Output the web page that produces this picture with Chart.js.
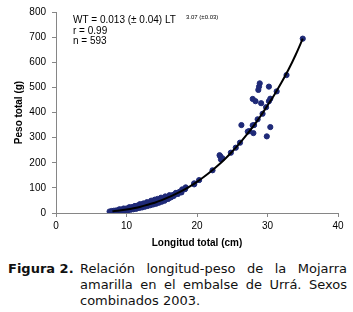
<!DOCTYPE html>
<html>
<head>
<meta charset="utf-8">
<script src="https://cdn.jsdelivr.net/npm/chart.js@4.4.1/dist/chart.umd.min.js"></script>
<style>
  html, body { margin: 0; padding: 0; background: #fff; }
  #wrap { position: relative; width: 353px; height: 252px; }
  #caption {
    display: flex;
    margin: 9px 0 0 8px;
    font-family: "DejaVu Sans", Verdana, sans-serif;
    font-size: 13px;
    line-height: 16px;
    color: #111;
  }
  #caption b { width: 72px; flex: none; }
  #caption span { width: 267px; text-align: justify; }
</style>
</head>
<body>
<div id="wrap"><canvas id="chart"></canvas></div>
<div id="caption"><b>Figura 2.</b><span>Relación longitud-peso de la Mojarra amarilla en el embalse de Urrá. Sexos combinados 2003.</span></div>
<script>
const lengths = [
    7.6, 7.9, 8.0, 8.2, 8.4, 8.5, 8.7, 8.8, 9.0, 9.1, 9.2, 9.4, 9.5, 9.6, 9.8, 9.9,
    10.0, 10.1, 10.2, 10.3, 10.4, 10.5, 10.6, 10.7, 10.8, 10.9, 11.0, 11.1, 11.2, 11.3,
    11.4, 11.5, 11.6, 11.7, 11.8, 11.9, 12.0, 12.1, 12.2, 12.3, 12.4, 12.5, 12.6, 12.7,
    12.8, 12.9, 13.0, 13.1, 13.2, 13.3, 13.4, 13.5, 13.6, 13.7, 13.8, 13.9, 14.0, 14.1,
    14.2, 14.3, 14.5, 14.6, 14.8, 14.9, 15.0, 15.2, 15.3, 15.5, 15.6, 15.8, 16.0, 16.2,
    16.4, 16.6, 16.8, 17.0, 17.2, 17.5,
    8.1, 8.6, 9.3, 9.7, 10.2, 10.6, 11.0, 11.4, 11.8, 12.2, 12.6, 13.0, 13.4, 13.8,
    14.2, 14.6, 15.0, 15.4, 15.9, 16.3, 16.7, 17.3, 17.8,
    9.0, 9.6, 10.4, 11.2, 11.9, 12.4, 12.9, 13.5, 14.0, 14.4, 14.9, 15.5, 16.1,
    17.9, 18.3, 18.4, 19.6, 19.6, 20.3, 22.2, 23.2, 23.3, 23.4, 23.6, 24.8, 25.5, 26.1,
    26.3, 27.2, 27.4, 27.9, 28.0, 28.1, 28.6, 28.7, 28.8, 28.9, 27.9, 28.3, 29.1, 29.3,
    29.8, 29.9, 30.2, 30.2, 30.4, 30.4, 31.3, 32.7, 35.0
];
const weights = [
    6, 8, 5, 9, 7, 10, 8, 11, 9, 13, 10, 14, 11, 15, 12, 17,
    14, 18, 13, 19, 15, 21, 16, 22, 18, 24, 17, 25, 20, 27,
    19, 29, 22, 30, 23, 32, 24, 31, 26, 34, 27, 36, 28, 37,
    30, 39, 31, 40, 33, 42, 34, 44, 36, 45, 38, 46, 39, 48,
    41, 47, 44, 52, 47, 54, 50, 56, 52, 58, 55, 62, 60, 64,
    66, 72, 73, 80, 79, 84,
    4, 6, 8, 10, 11, 13, 15, 17, 20, 22, 25, 28, 31, 34,
    37, 41, 45, 49, 56, 62, 68, 76, 82,
    15, 18, 23, 28, 35, 38, 43, 49, 53, 56, 61, 66, 71,
    94, 95, 102, 114, 118, 131, 170, 230, 226, 213, 218, 240, 260, 280,
    350, 324, 326, 349, 318, 350, 373, 490, 503, 516, 454, 445, 437, 395,
    421, 305, 445, 503, 342, 455, 484, 549, 694
];

// Fitted curve WT = 0.013 LT^3.07
const fitLengths = [8, 9, 10, 11, 12, 13, 14, 15, 16, 17, 18, 19, 20, 21, 22, 23, 24, 25, 26, 27, 28, 29, 30, 31, 32, 33, 34, 35];
const fitWeights = [7, 10, 14, 19, 25, 33, 41, 51, 63, 76, 90, 106, 124, 144, 166, 190, 216, 245, 276, 310, 346, 385, 428, 472, 520, 572, 630, 694];

const xTicks = [0, 10, 20, 30, 40];
const yTicks = [0, 100, 200, 300, 400, 500, 600, 700, 800];

const AXIS = '#868686';
const FONT = '"Liberation Sans", Arial, sans-serif';

// equation box in the upper left
const equationPlugin = {
    id: 'equation',
    afterDraw(chart) {
        const ctx = chart.ctx;
        ctx.save();
        ctx.fillStyle = '#000';
        ctx.textBaseline = 'alphabetic';
        ctx.font = '10px ' + FONT;
        ctx.fillText('WT = 0.013 (± 0.04) LT', 73, 23);
        ctx.fillText('r = 0.99', 73, 33.5);
        ctx.fillText('n = 593', 73, 44);
        ctx.font = '6px ' + FONT;
        ctx.fillText('3.07 (±0.03)', 186, 19);
        ctx.restore();
    }
};

const canvas = document.getElementById('chart');
canvas.width = 353;
canvas.height = 252;

new Chart(canvas, {
    data: {
        datasets: [
            {
                type: 'scatter',
                data: lengths.map((x, i) => ({ x: x, y: weights[i] })),
                backgroundColor: '#1f2a78',
                borderColor: '#1f2a78',
                pointRadius: 2.6,
                pointHoverRadius: 2.6,
                order: 2,
            },
            {
                type: 'line',
                data: fitLengths.map((x, i) => ({ x: x, y: fitWeights[i] })),
                borderColor: '#000',
                borderWidth: 2,
                pointRadius: 0,
                cubicInterpolationMode: 'monotone',
                fill: false,
                order: 1,
            },
        ],
    },
    options: {
        responsive: false,
        animation: false,
        events: [],
        layout: { padding: { left: 0, right: 15, top: 11, bottom: 0 } },
        plugins: { legend: { display: false }, tooltip: { enabled: false } },
        scales: {
            x: {
                type: 'linear',
                min: 0,
                max: 40,
                afterBuildTicks: (s) => { s.ticks = xTicks.map(v => ({ value: v })); },
                afterFit: (s) => { s.height = 39; },
                ticks: { color: '#000', font: { family: FONT, size: 10 }, padding: 3 },
                grid: { drawOnChartArea: false, drawTicks: true, tickLength: 4, color: AXIS },
                border: { color: AXIS, width: 1 },
                title: {
                    display: true,
                    text: 'Longitud total (cm)',
                    color: '#000',
                    font: { family: FONT, size: 10, weight: 'bold' },
                    padding: { top: 0, bottom: 3 },
                },
            },
            y: {
                type: 'linear',
                min: 0,
                max: 800,
                afterBuildTicks: (s) => { s.ticks = yTicks.map(v => ({ value: v })); },
                afterFit: (s) => { s.width = 56; },
                ticks: { color: '#000', font: { family: FONT, size: 10 }, padding: 6 },
                grid: { drawOnChartArea: false, drawTicks: true, tickLength: 4, color: AXIS },
                border: { color: AXIS, width: 1 },
                title: {
                    display: true,
                    text: 'Peso total (g)',
                    color: '#000',
                    font: { family: FONT, size: 10, weight: 'bold' },
                    padding: { top: 13, bottom: 0 },
                },
            },
        },
    },
    plugins: [equationPlugin],
});
</script>
</body>
</html>
